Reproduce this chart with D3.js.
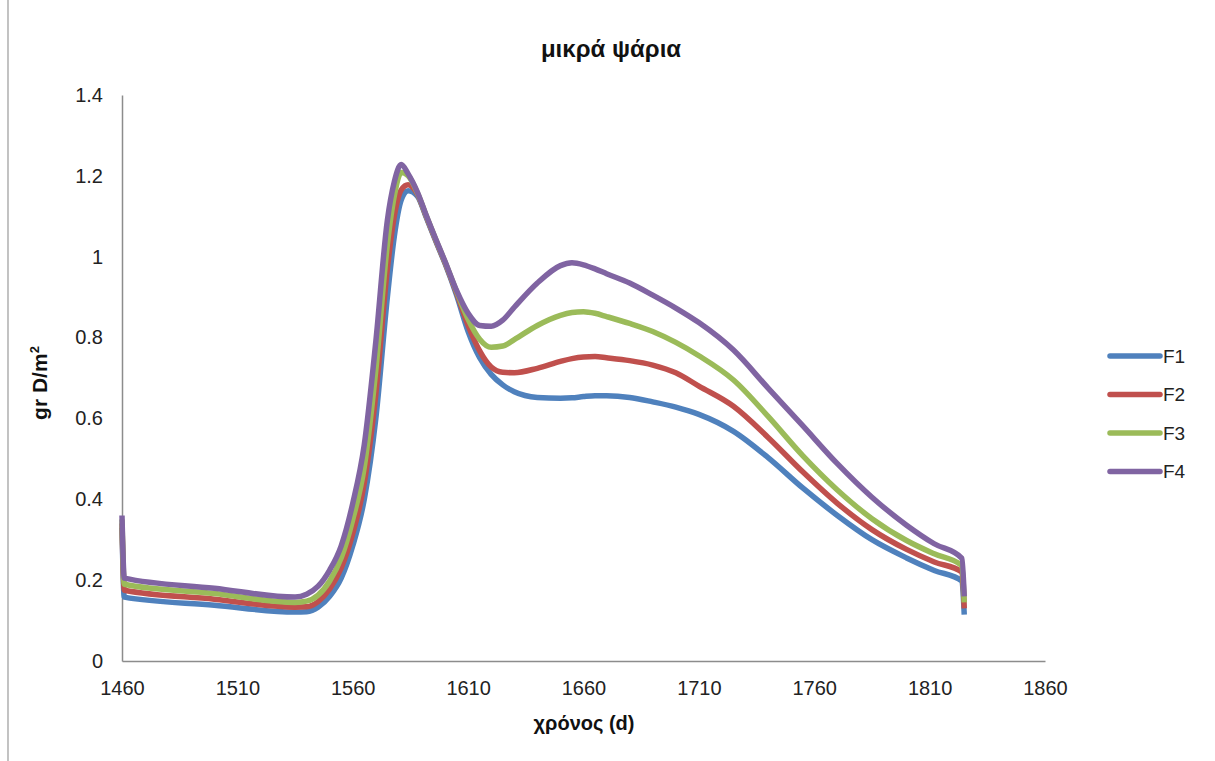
<!DOCTYPE html>
<html><head><meta charset="utf-8">
<script src="https://cdn.jsdelivr.net/npm/d3@7"></script>
<style>
body{margin:0;background:#fff;}
svg text{font-family:"Liberation Sans",Arial,sans-serif;}
</style></head>
<body><svg id="c" width="1215" height="761"></svg>
<script>
const days = [1460,1461,1500,1535,1540,1545,1550,1555,1560,1565,1570,1575,1578,1581,1584,1588,1592,1596,1600,1605,1610,1615,1620,1625,1630,1640,1650,1655,1660,1665,1670,1680,1690,1700,1710,1725,1740,1755,1770,1785,1800,1812,1824,1825];
const F1 = [0.33,0.158,0.138,0.121,0.122,0.133,0.160,0.205,0.285,0.400,0.600,0.900,1.050,1.140,1.163,1.150,1.095,1.038,0.983,0.905,0.815,0.750,0.709,0.683,0.666,0.652,0.650,0.651,0.654,0.656,0.656,0.652,0.641,0.628,0.610,0.568,0.503,0.428,0.360,0.300,0.255,0.224,0.198,0.115];
const F2 = [0.34,0.175,0.153,0.133,0.134,0.147,0.178,0.230,0.315,0.440,0.660,0.970,1.100,1.165,1.178,1.155,1.097,1.040,0.985,0.910,0.830,0.767,0.727,0.714,0.713,0.724,0.741,0.748,0.752,0.753,0.750,0.743,0.732,0.713,0.680,0.630,0.553,0.468,0.390,0.325,0.276,0.245,0.220,0.130];
const F3 = [0.35,0.190,0.167,0.145,0.148,0.163,0.198,0.255,0.350,0.480,0.720,1.030,1.150,1.208,1.200,1.158,1.099,1.042,0.987,0.914,0.845,0.796,0.776,0.779,0.795,0.830,0.855,0.862,0.864,0.860,0.852,0.835,0.815,0.788,0.755,0.695,0.605,0.508,0.423,0.352,0.298,0.265,0.236,0.145];
const F4 = [0.36,0.205,0.180,0.158,0.165,0.185,0.225,0.285,0.390,0.535,0.790,1.090,1.185,1.228,1.205,1.160,1.100,1.043,0.988,0.916,0.860,0.830,0.828,0.843,0.875,0.935,0.978,0.985,0.980,0.970,0.958,0.935,0.905,0.873,0.837,0.769,0.675,0.582,0.488,0.405,0.336,0.290,0.254,0.160];
const seriesNames = ["F1","F2","F3","F4"];
const seriesColors = ["#4F81BD","#C0504D","#9BBB59","#8064A2"];
const xTicks = [1460,1510,1560,1610,1660,1710,1760,1810,1860];
const yTicks = [0,0.2,0.4,0.6,0.8,1,1.2,1.4];
const title = "μικρά ψάρια";
const xTitle = "χρόνος (d)";

const svg = d3.select("#c");
const m = {l:122, r:1045, t:95, b:661};
const x = d3.scaleLinear().domain([1460,1860]).range([m.l,m.r]);
const y = d3.scaleLinear().domain([0,1.4]).range([m.b,m.t]);

// frame line
svg.append("line").attr("x1",8).attr("x2",8).attr("y1",0).attr("y2",761).attr("stroke","#9a9a9a").attr("stroke-width",1.2);

// axes
const xa = svg.append("g").attr("transform",`translate(0,${m.b})`)
  .call(d3.axisBottom(x).tickValues(xTicks).tickSize(0).tickPadding(20).tickFormat(d3.format("d")));
const ya = svg.append("g").attr("transform",`translate(${m.l},0)`)
  .call(d3.axisLeft(y).tickValues(yTicks).tickSize(0).tickPadding(19).tickFormat(d=>String(d)));
[xa,ya].forEach(g=>{
  g.select(".domain").attr("stroke","#8c8c8c").attr("stroke-width",1.5);
  g.selectAll("text").attr("font-size",20).attr("fill","#222");
});
xa.selectAll("text").attr("dy","0.68em");

// lines
const line = d3.line().x((d,i)=>x(days[i])).y(d=>y(d)).curve(d3.curveMonotoneX);
const all = [F1,F2,F3,F4];
all.forEach((s,k)=>{
  svg.append("path").datum(s).attr("d",line).attr("fill","none")
    .attr("stroke",seriesColors[k]).attr("stroke-width",5.5)
    .attr("stroke-linejoin","round").attr("stroke-linecap","butt");
});

// titles
svg.append("text").attr("x",611).attr("y",57).attr("text-anchor","middle")
  .attr("font-size",24).attr("font-weight","bold").attr("fill","#111").text(title);
svg.append("text").attr("x",584).attr("y",730).attr("text-anchor","middle")
  .attr("font-size",20).attr("font-weight","bold").attr("fill","#111").text(xTitle);
const yl = svg.append("text").attr("transform","translate(47,383) rotate(-90)").attr("text-anchor","middle")
  .attr("font-size",21).attr("font-weight","bold").attr("fill","#111");
yl.append("tspan").text("gr D/m");
yl.append("tspan").attr("font-size",13).attr("dy","-0.6em").text("2");

// legend
const lg = svg.append("g");
seriesNames.forEach((n,k)=>{
  const yy = 356 + k*38.5;
  lg.append("line").attr("x1",1110).attr("x2",1160).attr("y1",yy).attr("y2",yy)
    .attr("stroke",seriesColors[k]).attr("stroke-width",5.5).attr("stroke-linecap","round");
  lg.append("text").attr("x",1163).attr("y",yy).attr("dy","0.35em").attr("font-size",19).attr("fill","#222").text(n);
});
</script></body></html>
